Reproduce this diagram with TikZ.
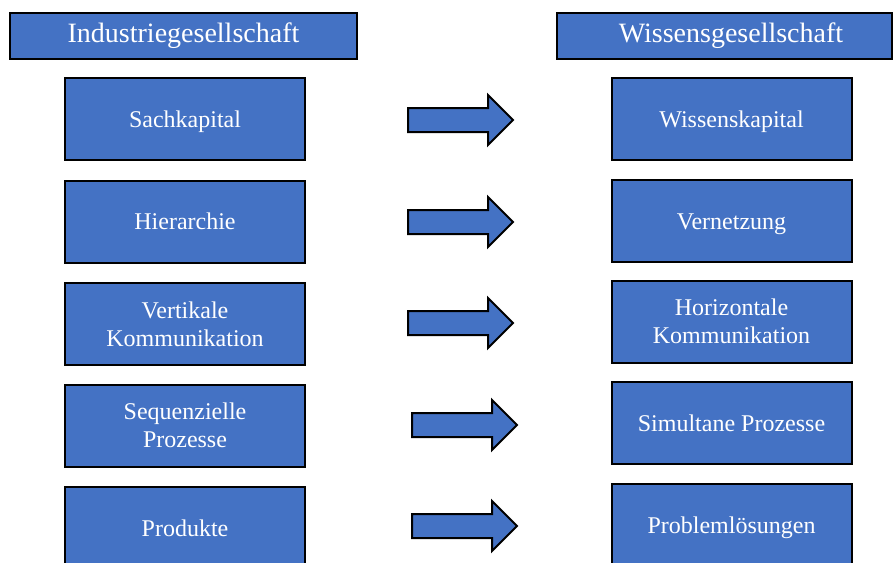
\documentclass[tikz,border=0pt]{standalone}
\usepackage{fontspec}
\setmainfont{Liberation Serif}
\definecolor{boxblue}{HTML}{4472C4}
\begin{document}
\begin{tikzpicture}[x=1pt,y=-1pt,
  base/.style={draw=black,line width=2pt,fill=boxblue,text=white,inner sep=0pt,align=center},
  header/.style={base,minimum height=46pt,font=\fontsize{28}{32}\selectfont},
  item/.style={base,minimum width=240pt,minimum height=82pt,font=\fontsize{24}{28}\selectfont},
  oneline/.style={text height=16pt,text depth=0pt},
  bigarrow/.style={draw=black,line width=2pt,fill=boxblue,line join=miter}]
\useasboundingbox (0,0) rectangle (893,562);

% column headings
\node[header,minimum width=347pt] (hl) at (183.5,36) {Industriegesellschaft};
\node[header,minimum width=335pt] (hr) at (724.5,36) {};
\node[text=white,font=\fontsize{28}{32}\selectfont,inner sep=0pt] (hrt) at (731,36) {Wissensgesellschaft};

% left column
\node[item,oneline] (l1) at (185,119)   {Sachkapital};
\node[item,oneline] (l2) at (185,221.5) {Hierarchie};
\node[item] (l3) at (185,324)   {Vertikale\\Kommunikation};
\node[item] (l4) at (185,425.5) {Sequenzielle\\Prozesse};
\node[item,oneline] (l5) at (185,528)   {Produkte};

% right column
\node[item,oneline] (r1) at (731.5,119)   {Wissenskapital};
\node[item,oneline] (r2) at (731.5,221)   {Vernetzung};
\node[item] (r3) at (731.5,321.5) {Horizontale\\Kommunikation};
\node[item,oneline] (r4) at (731.5,423)   {Simultane Prozesse};
\node[item,oneline] (r5) at (731.5,525)   {Problemlösungen};

% block arrows between the columns
\foreach \x/\y in {408/120, 408/222, 408/323, 412/425, 412/526}{
  \draw[bigarrow] (\x,\y-12) -- (\x+80,\y-12) -- (\x+80,\y-25) -- (\x+105,\y)
    -- (\x+80,\y+25) -- (\x+80,\y+12) -- (\x,\y+12) -- cycle;
}
\end{tikzpicture}
\end{document}
